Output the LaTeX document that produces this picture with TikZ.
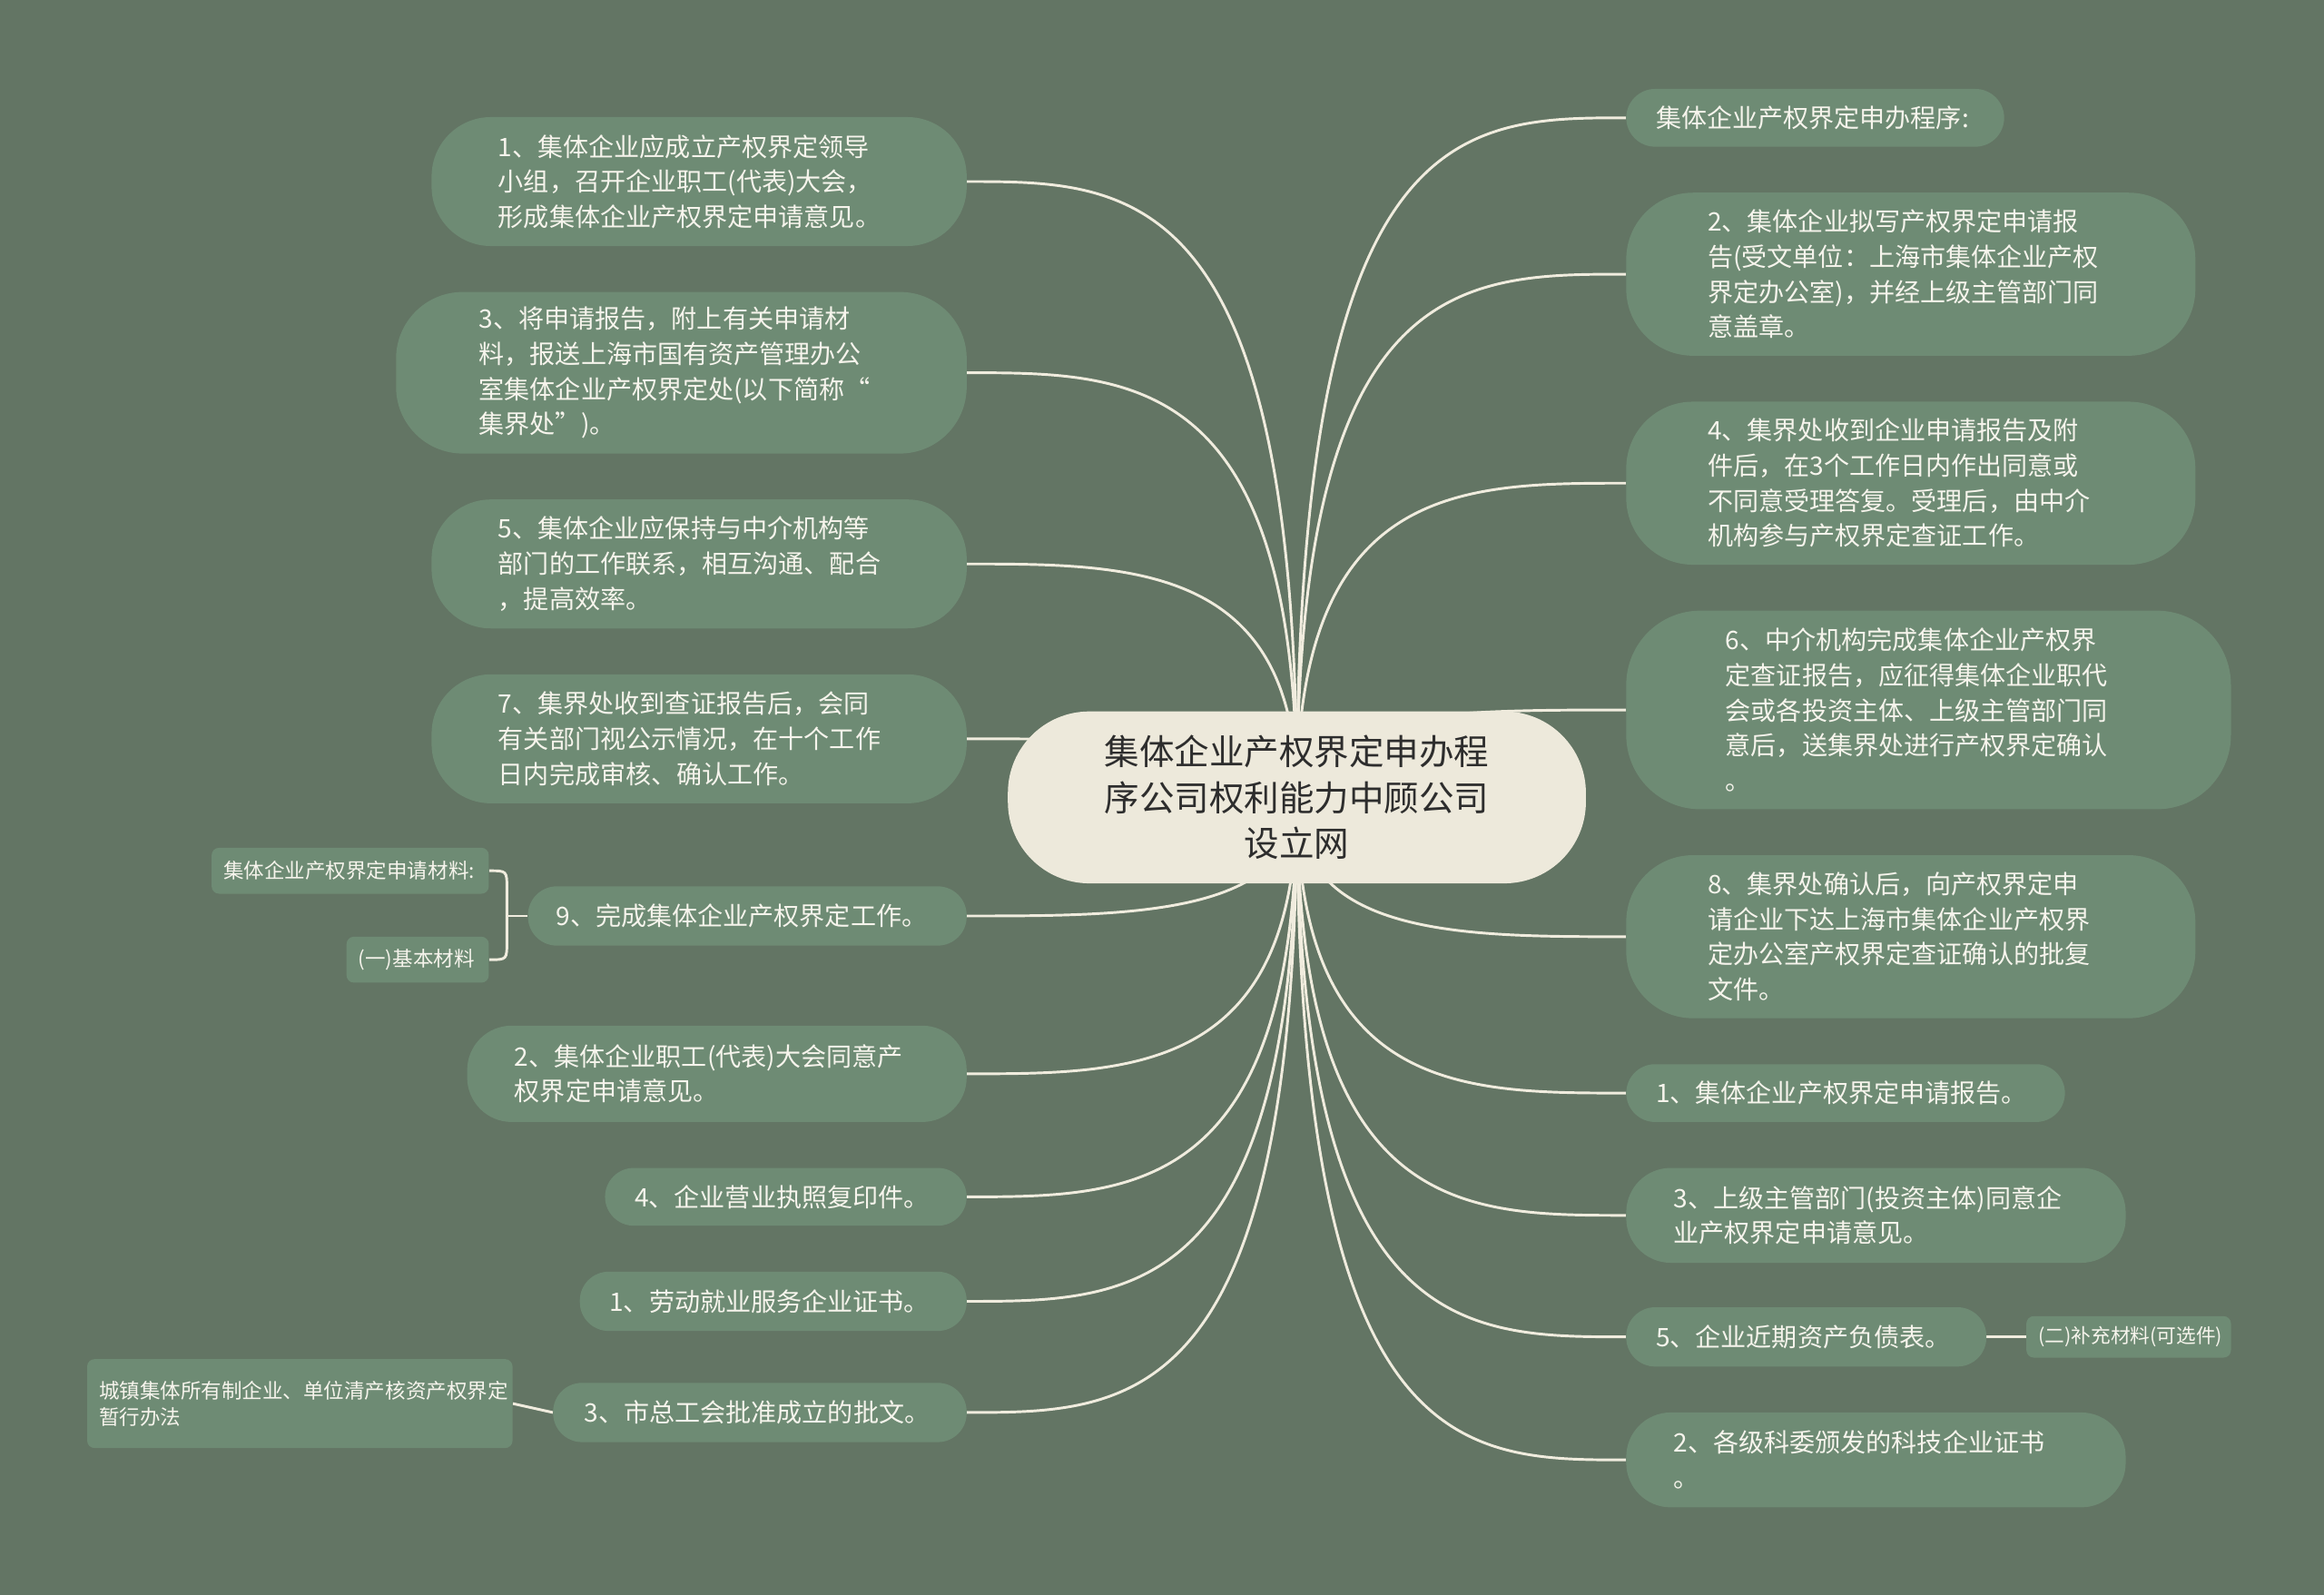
\documentclass[tikz,border=0pt]{standalone}
\usepackage{fontspec}
\setmainfont{Noto Sans CJK SC}
\usetikzlibrary{calc}
\pgfdeclarelayer{bglayer}
\pgfdeclarelayer{edgelayer}
\pgfsetlayers{bglayer,edgelayer,main}
\definecolor{bgc}{RGB}{99,117,100}
\definecolor{nodec}{RGB}{110,139,116}
\definecolor{centc}{RGB}{237,233,219}
\definecolor{linec}{RGB}{240,236,222}
\definecolor{txtc}{RGB}{246,244,236}
\definecolor{ctxt}{RGB}{45,45,45}
\tikzset{
  mn/.style={fill=nodec, text=txtc, anchor=west, align=left, inner ysep=2pt,
    font=\fontsize{17.2pt}{23.7pt}\selectfont},
  sn/.style={fill=nodec, text=txtc, anchor=east, align=left, inner ysep=2pt, inner xsep=8pt,
    rounded corners=5pt, font=\fontsize{13.8pt}{18pt}\selectfont},
  cn/.style={fill=centc, text=ctxt, align=center, minimum width=390pt, minimum height=116pt,
    rounded corners=55pt, font=\fontsize{23.6pt}{31pt}\selectfont},
  conn/.style={draw=linec, line width=1.8pt},
}
\begin{document}
\begin{tikzpicture}[x=1pt,y=-1pt]
\begin{pgfonlayer}{bglayer}
\fill[bgc] (0,0) rectangle (1568,1076);
\end{pgfonlayer}
\useasboundingbox (0,0) rectangle (1568,1076);

% center
\node[cn] (c) at (875,538) {集体企业产权界定申办程\\序公司权利能力中顾公司\\设立网};

% left nodes
\node[mn, minimum height=87pt, inner xsep=45pt, text width=271pt, rounded corners=40pt] (l1) at (291,122.5)
  {1、集体企业应成立产权界定领导\\小组，召开企业职工(代表)大会，\\形成集体企业产权界定申请意见。};
\node[mn, minimum height=109pt, inner xsep=56pt, text width=273pt, rounded corners=45pt] (l2) at (267,251.5)
  {3、将申请报告，附上有关申请材\\料，报送上海市国有资产管理办公\\室集体企业产权界定处(以下简称“\\集界处”)。};
\node[mn, minimum height=87pt, inner xsep=45pt, text width=271pt, rounded corners=40pt] (l3) at (291,380.5)
  {5、集体企业应保持与中介机构等\\部门的工作联系，相互沟通、配合\\，提高效率。};
\node[mn, minimum height=87pt, inner xsep=45pt, text width=271pt, rounded corners=40pt] (l4) at (291,498.5)
  {7、集界处收到查证报告后，会同\\有关部门视公示情况，在十个工作\\日内完成审核、确认工作。};
\node[mn, minimum height=40pt, inner xsep=19pt, text width=258pt, rounded corners=19.5pt] (l5) at (356,618)
  {9、完成集体企业产权界定工作。};
\node[mn, minimum height=65pt, inner xsep=32pt, text width=273pt, rounded corners=30pt] (l6) at (315,724.5)
  {2、集体企业职工(代表)大会同意产\\权界定申请意见。};
\node[mn, minimum height=39pt, inner xsep=20pt, text width=204pt, rounded corners=19.5pt] (l7) at (408,807.5)
  {4、企业营业执照复印件。};
\node[mn, minimum height=40pt, inner xsep=20pt, text width=221pt, rounded corners=19.5pt] (l8) at (391,878)
  {1、劳动就业服务企业证书。};
\node[mn, minimum height=40pt, inner xsep=21pt, text width=237pt, rounded corners=19.5pt] (l9) at (373,953)
  {3、市总工会批准成立的批文。};

% left children
\node[sn, minimum height=31pt, text width=171pt] (l5a) at (330,587.5) {集体企业产权界定申请材料:};
\node[sn, minimum height=31pt, text width=80pt] (l5b) at (330,647.5) {(一)基本材料};
\node[sn, minimum height=60pt, text width=271pt] (l9a) at (346,947) {城镇集体所有制企业、单位清产核资产权界定\\暂行办法};

% right nodes
\node[mn, minimum height=39pt, inner xsep=20pt, text width=215pt, rounded corners=19.5pt] (r1) at (1097,79.5)
  {集体企业产权界定申办程序:};
\node[mn, minimum height=110pt, inner xsep=55pt, text width=274pt, rounded corners=45pt] (r2) at (1097,185)
  {2、集体企业拟写产权界定申请报\\告(受文单位：上海市集体企业产权\\界定办公室)，并经上级主管部门同\\意盖章。};
\node[mn, minimum height=110pt, inner xsep=55pt, text width=274pt, rounded corners=45pt] (r3) at (1097,326)
  {4、集界处收到企业申请报告及附\\件后，在3个工作日内作出同意或\\不同意受理答复。受理后，由中介\\机构参与产权界定查证工作。};
\node[mn, minimum height=134pt, inner xsep=67pt, text width=274pt, rounded corners=50pt] (r4) at (1097,479)
  {6、中介机构完成集体企业产权界\\定查证报告，应征得集体企业职代\\会或各投资主体、上级主管部门同\\意后，送集界处进行产权界定确认\\。};
\node[mn, minimum height=110pt, inner xsep=55pt, text width=274pt, rounded corners=45pt] (r5) at (1097,632)
  {8、集界处确认后，向产权界定申\\请企业下达上海市集体企业产权界\\定办公室产权界定查证确认的批复\\文件。};
\node[mn, minimum height=39pt, inner xsep=20pt, text width=256pt, rounded corners=19.5pt] (r6) at (1097,737.5)
  {1、集体企业产权界定申请报告。};
\node[mn, minimum height=64pt, inner xsep=32pt, text width=273pt, rounded corners=30pt] (r7) at (1097,820)
  {3、上级主管部门(投资主体)同意企\\业产权界定申请意见。};
\node[mn, minimum height=40pt, inner xsep=20pt, text width=203pt, rounded corners=19.5pt] (r8) at (1097,902)
  {5、企业近期资产负债表。};
\node[mn, minimum height=64pt, inner xsep=32pt, text width=273pt, rounded corners=30pt] (r9) at (1097,985)
  {2、各级科委颁发的科技企业证书\\。};

% right child
\node[sn, anchor=west, minimum height=28pt, text width=122pt, font=\fontsize{13.3pt}{18pt}\selectfont] (r8a) at (1367,902) {(二)补充材料(可选件)};

\coordinate (br) at (342,618);

\begin{pgfonlayer}{edgelayer}
\foreach \n in {l1,l2,l3,l4,l5,l6,l7,l8,l9} {
  \draw[conn] (c.center) .. controls (c.center |- \n.east) and ($(\n.east)+(111,0)$) .. (\n.east);
}
\foreach \n in {r1,r2,r3,r4,r5,r6,r7,r8,r9} {
  \draw[conn] (c.center) .. controls (c.center |- \n.west) and ($(\n.west)+(-111,0)$) .. (\n.west);
}
\draw[conn] (l5.west) -- (br);
\draw[conn] (l5a.east) .. controls (br |- l5a.east) .. ($(br |- l5a.east)+(0,12)$)
  -- ($(br |- l5b.east)+(0,-12)$) .. controls (br |- l5b.east) .. (l5b.east);
\draw[conn] (l9.west) -- (l9a.east);
\draw[conn] (r8.east) -- (r8a.west);
\end{pgfonlayer}
\end{tikzpicture}
\end{document}
